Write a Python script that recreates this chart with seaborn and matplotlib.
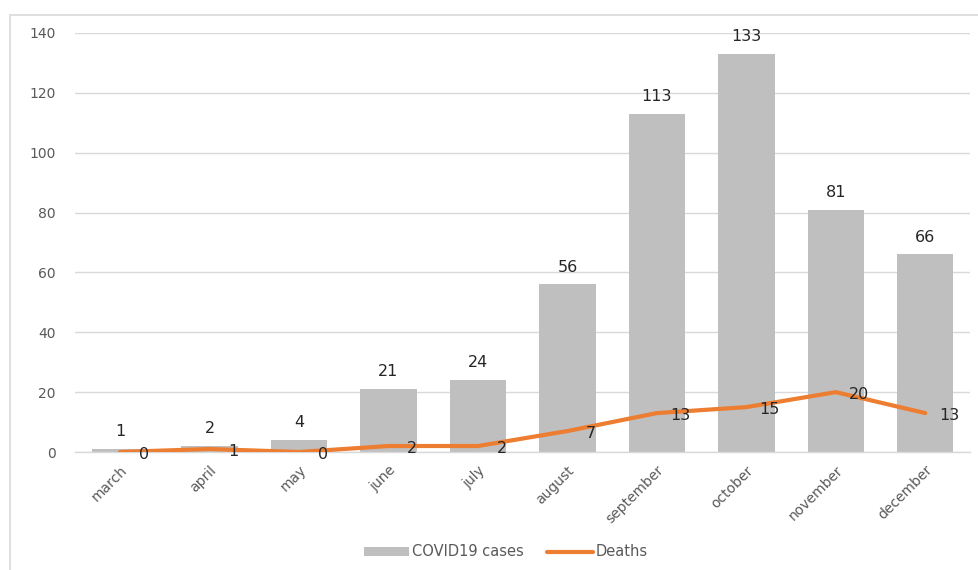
import matplotlib
matplotlib.use("Agg")
import matplotlib.pyplot as plt
import seaborn as sns
import numpy as np
import pandas as pd
from matplotlib.patches import Rectangle

months = ["march", "april", "may", "june", "july", "august",
          "september", "october", "november", "december"]
cases = [1, 2, 4, 21, 24, 56, 113, 133, 81, 66]
deaths = [0, 1, 0, 2, 2, 7, 13, 15, 20, 13]
yticks = [0, 20, 40, 60, 80, 100, 120, 140]

sns.set_theme(style="white")
plt.rcParams['font.family'] = ['DejaVu Sans']

df = pd.DataFrame({"month": months, "cases": cases, "deaths": deaths})

fig = plt.figure(figsize=(9.79, 5.70), dpi=100)
ax = fig.add_axes([75.3 / 979, 1 - 452 / 570, (970 - 75.3) / 979, (452 - 33) / 570])

sns.barplot(data=df, x="month", y="cases", color="#BFBFBF", width=0.63,
            saturation=1, ax=ax, label="COVID19 cases", zorder=2, linewidth=0)
sns.lineplot(x=np.arange(len(months)), y=deaths, color="#ED7D31", linewidth=3,
             ax=ax, label="Deaths", zorder=3)

for i, v in enumerate(cases):
    ax.annotate(str(v), (i, v), xytext=(0, 7), textcoords="offset points",
                ha="center", va="bottom", fontsize=11.5, color="#262626")
for i, v in enumerate(deaths):
    ax.annotate(str(v), (i, v), xytext=(17, -2), textcoords="offset points",
                ha="center", va="center", fontsize=11.5, color="#262626")

ax.set_xlim(-0.5, len(months) - 0.5)
ax.set_ylim(0, 140)
ax.set_yticks(yticks)
ax.set_yticklabels([str(t) for t in yticks], fontsize=10, color="#595959")
ax.set_xticks(range(len(months)))
ax.set_xticklabels(months, rotation=45, ha="right", rotation_mode="anchor",
                   fontsize=10, color="#595959")
ax.tick_params(axis="both", length=0)
ax.tick_params(axis="y", pad=14)
ax.tick_params(axis="x", pad=8)
ax.set_xlabel("")
ax.set_ylabel("")
ax.grid(axis="y", color="#D9D9D9", linewidth=1, zorder=0)
ax.set_axisbelow(True)
for s in ["top", "right", "left"]:
    ax.spines[s].set_visible(False)
ax.spines["bottom"].set_color("#D9D9D9")
ax.spines["bottom"].set_linewidth(1)

handles, labels = ax.get_legend_handles_labels()
order = [labels.index("COVID19 cases"), labels.index("Deaths")]
ax.legend([handles[k] for k in order], [labels[k] for k in order],
          loc="center", bbox_to_anchor=(506 / 979, 1 - 552 / 570),
          bbox_transform=fig.transFigure, ncol=2, frameon=False,
          prop={"size": 10.5}, handlelength=3.1, handleheight=0.55,
          columnspacing=1.6, handletextpad=0.2, labelcolor="#595959")

fig.patches.append(Rectangle((10 / 979, -0.05), 1.1, 1 - 15 / 570 + 0.05,
                             transform=fig.transFigure, fill=False,
                             edgecolor="#D9D9D9", linewidth=1.2, zorder=-1))

fig.savefig("out.png", dpi=100)
